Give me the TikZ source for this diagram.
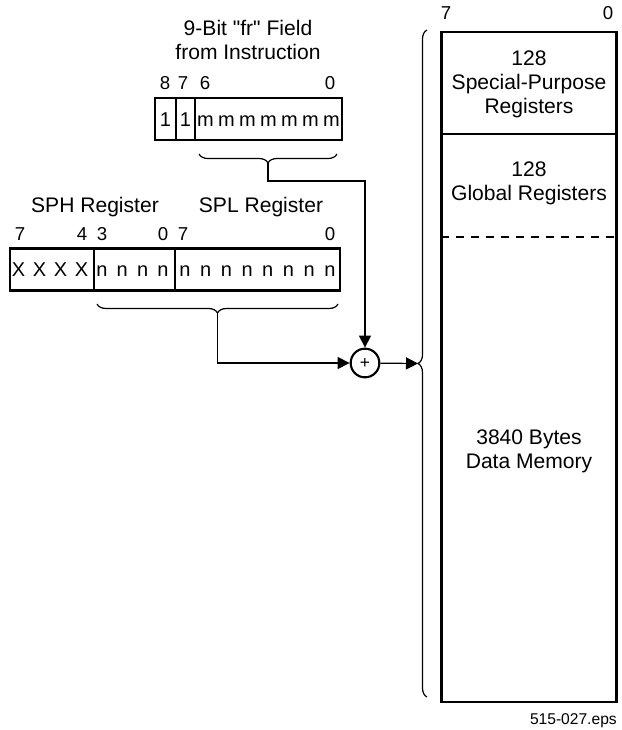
\documentclass[tikz,border=0pt]{standalone}
\usepackage{fontspec}
\setmainfont{Liberation Sans}
\newfontfamily\plainquote{Liberation Sans}
\usetikzlibrary{arrows.meta, decorations.pathreplacing}

\begin{document}
\begin{tikzpicture}[
  x=0.75pt, y=-0.75pt,
  every node/.style={align=center, inner sep=0pt},
  lbl/.style={font=\fontsize{15.8}{18}\selectfont},
  bitno/.style={anchor=base, font=\fontsize{14}{16}\selectfont},
  cell/.style={anchor=base, font=\fontsize{15}{18}\selectfont},
  box/.style={draw, line width=1.6pt},
  divider/.style={line width=1.6pt},
  curly/.style={decorate, decoration={brace, amplitude=6.75pt}, line width=0.9pt},
  link/.style={line width=0.9pt},
  >={Triangle[length=9pt, width=9pt]}
]
\useasboundingbox (0,0) rectangle (621,730);

% "fr" field
\node[lbl] (frtitle) at (248,40) {{\plainquote 9-Bit "fr" Field}\\from Instruction};
\node[box, minimum width=140.25pt, minimum height=31.5pt] (fr) at (248.5,119) {};
\draw[divider] (176,98) -- (176,140) (195,98) -- (195,140);
\node[bitno] (fr8) at (165,90) {8};
\node[bitno] (fr7) at (183,90) {7};
\node[bitno] (fr6) at (205,90) {6};
\node[bitno] (fr0) at (330,90) {0};
\node[cell] (one8) at (165.5,127) {1};
\node[cell] (one7) at (185.5,127) {1};
\foreach \i in {0,...,6}
  \node[cell] (m\i) at (205.5+21*\i,127) {m};

% SPH / SPL registers
\node[lbl, anchor=base] (sphtitle) at (95,213) {SPH Register};
\node[lbl, anchor=base] (spltitle) at (261,213) {SPL Register};
\node[box, minimum width=247.5pt, minimum height=31.5pt] (sp) at (175,269.5) {};
\draw[divider] (94,248) -- (94,291) (175,248) -- (175,291);
\node[bitno] (sph7) at (20,240.5) {7};
\node[bitno] (sph4) at (82,240.5) {4};
\node[bitno] (sph3) at (102,240.5) {3};
\node[bitno] (sph0) at (163,240.5) {0};
\node[bitno] (spl7) at (183,240.5) {7};
\node[bitno] (spl0) at (330,240.5) {0};
\foreach \i in {0,...,3}
  \node[cell] (x\i) at (18.5+21*\i,277) {X};
\foreach \i in {0,...,3}
  \node[cell] (nh\i) at (102+20.3*\i,277) {n};
\foreach \i in {0,...,7}
  \node[cell] (nl\i) at (185+20.7*\i,277) {n};

% Data memory
\node[box, minimum width=131.25pt, minimum height=502.5pt] (mem) at (529,367) {};
\draw[divider] (441,134) -- (617,134);
\draw[divider, dash pattern=on 6pt off 5.25pt] (441,237) -- (617,237);
\node[bitno] (mem7) at (446,20) {7};
\node[bitno] (mem0) at (608,20) {0};
\node[lbl] (spr) at (529,84) {128\\Special-Purpose\\Registers};
\node[lbl] (glob) at (529,183) {128\\Global Registers};
\node[lbl] (data) at (529,451.5) {3840 Bytes\\Data Memory};

% Braces
\draw[curly] (337,154) -- (199,154);
\coordinate (frtip) at (268,163);
\draw[curly] (338,304) -- (97,304);
\coordinate (sptip) at (217.5,313);
\draw[curly] (427,697) -- (427,30);
\coordinate (memtip) at (418,363.5);

% Adder and arrows
\node[draw, circle, line width=1.6pt, minimum size=21.5pt, font=\fontsize{13}{14}\selectfont] (adder) at (365,363) {+};
\draw[link, ->] (frtip) -- ++(0,18) -| (adder);
\draw[link, ->] (sptip) |- (adder);
\draw[link, ->] (adder) -- (memtip);

\node[anchor=base east, font=\fontsize{11.7}{14}\selectfont] (fname) at (617,724) {515-027.eps};
\end{tikzpicture}
\end{document}
